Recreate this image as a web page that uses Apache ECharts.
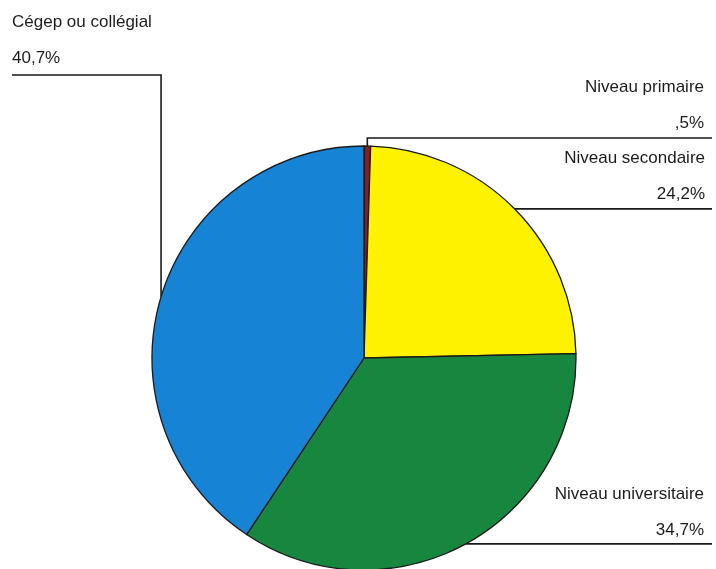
<!DOCTYPE html>
<html>
<head>
<meta charset="utf-8">
<script src="https://cdn.jsdelivr.net/npm/echarts@6/dist/echarts.min.js"></script>
<style>html,body{margin:0;padding:0;background:#fff}#c{width:716px;height:569px}</style>
</head>
<body>
<div id="c"></div>
<script>
const categories = ['Niveau primaire', 'Niveau secondaire', 'Niveau universitaire', 'Cégep ou collégial'];
const values = [0.5, 24.2, 34.7, 40.7];
const colors = ['#8a1c24', '#fff200', '#17873f', '#1683d4'];

function fmtPct(v) {
  return v.toFixed(1).replace('.', ',').replace(/^0/, '') + '%';
}

const labelPos = [
  { x: 704, y: 69, align: 'right', lineY: 138, lineEnd: 712, type: 'up' },
  { x: 705, y: 140, align: 'right', lineEnd: 712, type: 'flat' },
  { x: 704, y: 476, align: 'right', lineEnd: 712, type: 'flat' },
  { x: 12, y: 4, align: 'left', lineY: 75, lineEnd: 12, type: 'up' }
];

const chart = echarts.init(document.getElementById('c'), null, { renderer: 'canvas' });
chart.setOption({
  animation: false,
  backgroundColor: '#fff',
  series: [{
    type: 'pie',
    center: [364, 358],
    radius: 212,
    startAngle: 90,
    clockwise: true,
    avoidLabelOverlap: false,
    itemStyle: { borderColor: '#1a1a1a', borderWidth: 1.3 },
    label: {
      show: true,
      position: 'outside',
      formatter: p => p.name + '\n' + fmtPct(p.value),
      fontFamily: 'Liberation Sans, Arial, sans-serif',
      fontSize: 17,
      lineHeight: 36,
      color: '#1c1c1c'
    },
    labelLine: {
      show: true,
      length: 10,
      length2: 10,
      lineStyle: { color: '#1a1a1a', width: 1.6 }
    },
    labelLayout: function (params) {
      const cfg = labelPos[params.dataIndex];
      const pts = params.labelLinePoints;
      let out = { x: cfg.x, y: cfg.y, align: cfg.align, verticalAlign: 'top' };
      if (pts && pts.length) {
        const p0 = pts[0];
        if (cfg.type === 'up') {
          out.labelLinePoints = [[p0[0], p0[1]], [p0[0], cfg.lineY], [cfg.lineEnd, cfg.lineY]];
        } else {
          out.labelLinePoints = [[p0[0], p0[1]], [(p0[0] + cfg.lineEnd) / 2, p0[1]], [cfg.lineEnd, p0[1]]];
        }
      }
      return out;
    },
    data: categories.map((n, i) => ({ name: n, value: values[i], itemStyle: { color: colors[i] } }))
  }]
});
</script>
</body>
</html>
